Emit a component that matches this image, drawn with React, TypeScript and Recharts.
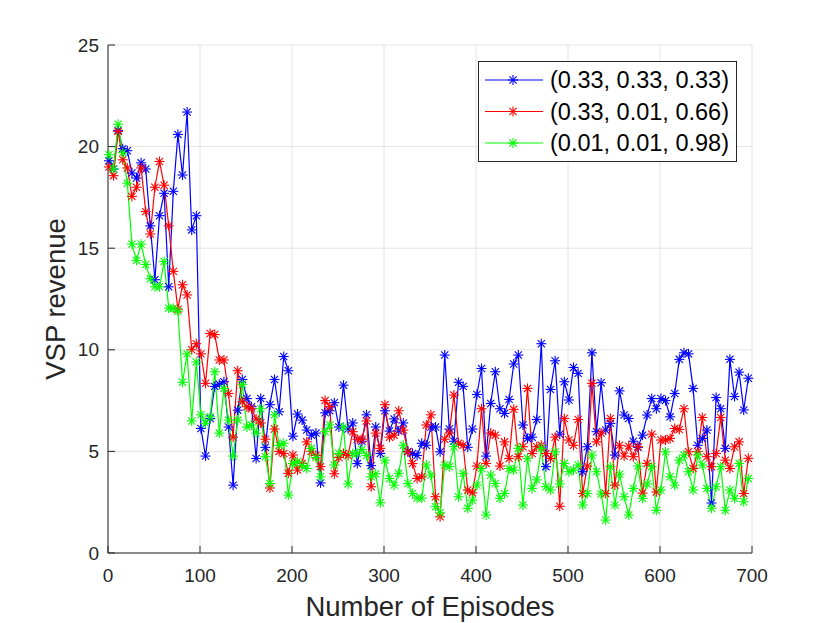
import React from 'react';
import { LineChart, Line, XAxis, YAxis, CartesianGrid, Legend, Label } from 'recharts';

// VSP revenue per episode (episodes 1, 6, 11, ... 696)
const blueRevenue = [
  19.3, 18.9, 20.8, 19.9, 19.8, 18.7, 18.45, 19.2, 18.9, 16.1,
  13.45, 16.6, 17.7, 13.1, 17.8, 20.6, 18.6, 21.7, 15.9, 16.6,
  6.13, 4.77, 6.62, 8.2, 8.3, 8.43, 6.2, 3.34, 7.03, 8.54,
  7.6, 7.2, 4.65, 7.6, 5.2, 7.3, 8.54, 6.95, 9.67, 8.97,
  5.75, 6.84, 6.54, 6.05, 5.8, 5.9, 3.45, 6.9, 7.0, 7.4,
  6.2, 8.26, 6.1, 6.4, 4.4, 5.5, 6.8, 4.3, 6.2, 4.9,
  7.0, 6.0, 6.6, 6.0, 6.4, 5.0, 4.9, 4.8, 5.4, 5.3,
  6.2, 6.2, 4.98, 9.74, 6.1, 5.5, 8.4, 8.2, 5.2, 6.1,
  7.8, 9.08, 4.77, 7.36, 8.92, 7.1, 6.87, 7.56, 9.3, 9.74,
  6.3, 5.64, 5.7, 6.57, 10.3, 4.25, 8.05, 9.46, 5.85, 8.43,
  7.53, 9.13, 8.84, 4.0, 5.23, 9.85, 5.97, 8.38, 6.05, 6.38,
  4.82, 7.98, 6.79, 6.62, 5.5, 5.2, 5.8, 6.79, 7.6, 7.1,
  7.6, 7.5, 6.7, 7.85, 9.53, 9.85, 9.8, 8.1, 5.3, 5.64,
  6.05, 2.46, 7.65, 7.1, 5.15, 9.53, 7.7, 8.9, 7.04, 8.6,
];

const redRevenue = [
  19.0, 18.57, 20.75, 19.35, 18.95, 17.55, 18.0, 18.95, 16.8, 15.7,
  18.0, 19.27, 18.1, 16.1, 13.86, 12.0, 13.2, 12.7, 10.0, 10.3,
  9.8, 8.35, 10.8, 10.75, 9.5, 9.5, 7.85, 5.7, 8.97, 7.44,
  7.2, 7.1, 6.6, 6.4, 5.6, 3.2, 6.1, 5.0, 4.9, 3.92,
  4.82, 4.08, 4.41, 5.47, 5.0, 4.8, 4.25, 7.5, 7.2, 3.9,
  4.7, 4.9, 4.8, 5.97, 5.6, 5.6, 6.5, 3.26, 5.9, 5.15,
  7.3, 5.7, 5.8, 7.0, 6.05, 4.98, 4.4, 3.67, 3.75, 6.3,
  6.8, 2.77, 1.78, 5.6, 5.9, 7.77, 5.4, 5.3, 3.1, 2.96,
  4.28, 7.1, 4.41, 5.9, 5.8, 4.28, 5.47, 4.65, 7.07, 4.74,
  5.23, 8.1, 4.9, 5.23, 5.3, 4.9, 4.65, 5.7, 2.3, 6.62,
  5.56, 5.3, 6.57, 2.93, 4.28, 8.35, 5.47, 5.9, 2.93, 6.62,
  3.34, 5.3, 4.77, 5.26, 4.74, 5.23, 2.95, 4.41, 5.85, 3.0,
  5.56, 5.56, 5.64, 6.13, 6.08, 7.1, 4.98, 4.16, 5.0, 6.67,
  4.74, 4.25, 4.9, 6.67, 4.57, 4.16, 5.23, 5.47, 2.93, 4.66,
];

const greenRevenue = [
  19.6, 18.9, 21.1, 19.7, 18.2, 15.2, 14.4, 15.2, 14.2, 13.5,
  13.1, 13.1, 14.35, 12.05, 12.05, 11.9, 8.4, 9.8, 6.5, 9.4,
  6.8, 6.38, 6.7, 8.92, 5.9, 8.1, 6.54, 4.77, 6.54, 8.3,
  6.2, 6.3, 5.9, 7.1, 4.74, 3.42, 6.8, 5.3, 5.4, 2.85,
  4.4, 4.5, 4.3, 4.16, 5.15, 4.7, 3.75, 5.97, 6.3, 4.33,
  4.9, 6.2, 3.4, 4.9, 4.9, 5.1, 4.8, 3.75, 3.9, 2.47,
  4.57, 3.67, 3.34, 3.92, 5.3, 3.42, 2.93, 2.7, 2.7, 4.33,
  3.84, 2.28, 1.98, 4.33, 4.25, 5.23, 2.77, 3.92, 2.2, 2.6,
  3.34, 4.16, 1.87, 3.84, 3.42, 2.69, 2.93, 4.16, 4.08, 5.15,
  2.36, 4.66, 3.18, 3.6, 5.15, 3.26, 3.1, 4.98, 3.4, 4.41,
  4.0, 4.08, 4.33, 2.36, 2.93, 4.82, 4.0, 2.9, 1.62, 4.25,
  2.36, 3.88, 2.77, 1.87, 3.18, 4.28, 2.69, 3.4, 4.25, 2.1,
  3.1, 4.98, 3.75, 3.34, 4.57, 4.82, 4.0, 3.1, 4.82, 4.33,
  3.18, 2.2, 3.26, 4.25, 2.1, 3.1, 2.69, 4.41, 2.52, 3.67,
];

const seriesNames = ['(0.33, 0.33, 0.33)', '(0.33, 0.01, 0.66)', '(0.01, 0.01, 0.98)'];
const seriesColors = ['#0000ff', '#ff0000', '#00ff00'];
const xTicks = [0, 100, 200, 300, 400, 500, 600, 700];
const yTicks = [0, 5, 10, 15, 20, 25];

const data = blueRevenue.map((v, i) => ({
  episode: 1 + 5 * i,
  s0: v,
  s1: redRevenue[i],
  s2: greenRevenue[i],
}));

const AXIS = '#262626';
const TICK_LEN = 7;
const FONT = '"Liberation Sans", Arial, Helvetica, sans-serif';

const Star = ({ cx, cy, color, r = 5 }: any) => {
  if (cx == null || cy == null) return null;
  const d = r * 0.72;
  return (
    <g stroke={color} strokeWidth={1.1} fill="none">
      <line x1={cx - r} y1={cy} x2={cx + r} y2={cy} />
      <line x1={cx} y1={cy - r} x2={cx} y2={cy + r} />
      <line x1={cx - d} y1={cy - d} x2={cx + d} y2={cy + d} />
      <line x1={cx - d} y1={cy + d} x2={cx + d} y2={cy - d} />
    </g>
  );
};

const BottomTick = ({ x, y, payload }: any) => (
  <g>
    <line x1={x} x2={x} y1={y} y2={y - TICK_LEN} stroke={AXIS} />
    <text x={x} y={y + 29} textAnchor="middle" fontSize={19} fill={AXIS} fontFamily={FONT}>
      {payload.value}
    </text>
  </g>
);

const LeftTick = ({ x, y, payload }: any) => (
  <g>
    <line x1={x} x2={x + TICK_LEN} y1={y} y2={y} stroke={AXIS} />
    <text x={x - 9} y={y} dy="0.35em" textAnchor="end" fontSize={19} fill={AXIS} fontFamily={FONT}>
      {payload.value}
    </text>
  </g>
);

const TopTick = ({ x, y }: any) => <line x1={x} x2={x} y1={y} y2={y + TICK_LEN} stroke={AXIS} />;
const RightTick = ({ x, y }: any) => <line x1={x} x2={x - TICK_LEN} y1={y} y2={y} stroke={AXIS} />;

const renderLegend = ({ payload }: any) => {
  const entries = [...(payload || [])].sort(
    (a: any, b: any) => seriesNames.indexOf(a.value) - seriesNames.indexOf(b.value)
  );
  return (
    <svg width={259} height={101} style={{ display: 'block' }}>
      <rect x={0.5} y={0.5} width={258} height={100} fill="#fff" stroke={AXIS} strokeWidth={1} />
      {entries.map((entry: any, i: number) => {
        const cy = 19 + i * 31.5;
        return (
          <g key={entry.value}>
            <line x1={7} x2={65} y1={cy} y2={cy} stroke={entry.color} strokeWidth={1.2} />
            <Star cx={35} cy={cy} color={entry.color} />
            <text x={72} y={cy} dy="0.35em" fontSize={23.5} fill="#000" fontFamily={FONT}>
              {entry.value}
            </text>
          </g>
        );
      })}
    </svg>
  );
};

export default function App() {
  return (
    <div
      style={{
        position: 'absolute',
        left: 0,
        top: 0,
        width: 830,
        height: 623,
        background: '#fff',
        fontFamily: FONT,
      }}
    >
      <LineChart width={830} height={623} data={data} margin={{ top: 45, right: 78, bottom: 30, left: 68 }}>
        <CartesianGrid stroke="#e4e4e4" strokeWidth={1} />
        <XAxis
          dataKey="episode"
          type="number"
          domain={[0, 700]}
          ticks={xTicks}
          height={40}
          tickSize={0}
          tickMargin={0}
          tickLine={false}
          axisLine={{ stroke: AXIS }}
          tick={<BottomTick />}
          interval={0}
        >
          <Label
            content={(p: any) => {
              const vb = p.viewBox || { x: 108, y: 553, width: 644 };
              return (
                <text x={vb.x + vb.width / 2} y={vb.y + 63} textAnchor="middle" fontSize={27.5} fill={AXIS} fontFamily={FONT}>
                  Number of Episodes
                </text>
              );
            }}
          />
        </XAxis>
        <XAxis
          xAxisId="top"
          orientation="top"
          dataKey="episode"
          type="number"
          domain={[0, 700]}
          ticks={xTicks}
          height={0}
          tickSize={0}
          tickMargin={0}
          tickLine={false}
          axisLine={{ stroke: AXIS }}
          tick={<TopTick />}
          interval={0}
        />
        <YAxis
          type="number"
          domain={[0, 25]}
          ticks={yTicks}
          width={40}
          tickSize={0}
          tickMargin={0}
          tickLine={false}
          axisLine={{ stroke: AXIS }}
          tick={<LeftTick />}
          interval={0}
        >
          <Label
            content={(p: any) => {
              const vb = p.viewBox || { x: 68, y: 45, height: 508 };
              const x = vb.x - 3;
              const y = vb.y + vb.height / 2;
              return (
                <text x={x} y={y} transform={`rotate(-90, ${x}, ${y})`} textAnchor="middle" fontSize={27.5} fill={AXIS} fontFamily={FONT}>
                  VSP revenue
                </text>
              );
            }}
          />
        </YAxis>
        <YAxis
          yAxisId="right"
          orientation="right"
          type="number"
          domain={[0, 25]}
          ticks={yTicks}
          width={0}
          tickSize={0}
          tickMargin={0}
          tickLine={false}
          axisLine={{ stroke: AXIS }}
          tick={<RightTick />}
          interval={0}
        />
        <Legend
          layout="horizontal"
          verticalAlign="middle"
          align="center"
          wrapperStyle={{ left: 478, top: 61, width: 259, height: 101 }}
          content={renderLegend}
        />
        {seriesNames.map((name, i) => (
          <Line
            key={name}
            name={name}
            dataKey={`s${i}`}
            type="linear"
            stroke={seriesColors[i]}
            strokeWidth={1.2}
            dot={(p: any) => <Star key={`${name}-${p.index}`} cx={p.cx} cy={p.cy} color={seriesColors[i]} />}
            activeDot={false}
            isAnimationActive={false}
          />
        ))}
      </LineChart>
    </div>
  );
}
